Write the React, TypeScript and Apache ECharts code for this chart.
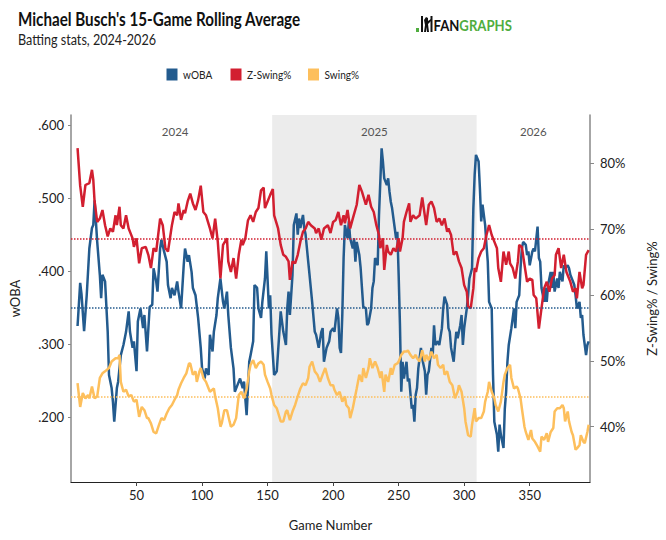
import React, { useEffect, useRef } from "react";
import * as echarts from "echarts";

const titleText = "Michael Busch's 15-Game Rolling Average";
const subtitleText = "Batting stats, 2024-2026";
const seriesNames = ["wOBA", "Z-Swing%", "Swing%"];
const seasonLabels = ["2024", "2025", "2026"];
const seasonBounds = [5.5, 153.5, 309.5, 396];
const xTicks = [50, 100, 150, 200, 250, 300, 350];
const wobaTicks = [0.2, 0.3, 0.4, 0.5, 0.6];
const pctTicks = [40, 50, 60, 70, 80];
const wobaAvg = 0.35;
const zSwingAvg = 68.6;
const swingAvg = 44.6;

const wobaPoints: [number, number][] = [
  [5, 0.325], [7, 0.384], [8, 0.369], [10, 0.318], [12, 0.367], [14, 0.431], [16, 0.459], [17, 0.463], [18, 0.497], [20, 0.44],
  [22, 0.395], [23, 0.363], [24, 0.395], [26, 0.386], [28, 0.317], [29, 0.258], [31, 0.24], [32, 0.221], [33, 0.194], [35, 0.24],
  [36, 0.249], [38, 0.285], [40, 0.299], [42, 0.317], [44, 0.345], [45, 0.317], [47, 0.295], [48, 0.304], [50, 0.263], [51, 0.331],
  [53, 0.349], [55, 0.322], [56, 0.34], [58, 0.29], [60, 0.351], [62, 0.354], [63, 0.404], [65, 0.386], [66, 0.372], [68, 0.431],
  [69, 0.443], [71, 0.427], [73, 0.413], [74, 0.381], [76, 0.363], [77, 0.377], [79, 0.367], [81, 0.386], [82, 0.372], [84, 0.349],
  [86, 0.408], [87, 0.431], [89, 0.413], [90, 0.422], [92, 0.399], [93, 0.377], [95, 0.367], [97, 0.336], [99, 0.295], [100, 0.267],
  [102, 0.253], [103, 0.267], [105, 0.258], [106, 0.313], [108, 0.29], [109, 0.317], [111, 0.34], [112, 0.363], [114, 0.39], [116, 0.358],
  [117, 0.349], [119, 0.372], [120, 0.34], [122, 0.295], [124, 0.267], [125, 0.235], [127, 0.244], [129, 0.253], [131, 0.24], [132, 0.249],
  [134, 0.203], [136, 0.276], [137, 0.285], [139, 0.304], [140, 0.381], [142, 0.377], [143, 0.349], [145, 0.336], [146, 0.358], [148, 0.39],
  [149, 0.427], [151, 0.349], [152, 0.367], [153, 0.313], [155, 0.258], [157, 0.263], [159, 0.317], [160, 0.345], [162, 0.317], [164, 0.299],
  [165, 0.349], [166, 0.372], [167, 0.34], [169, 0.395], [170, 0.463], [172, 0.479], [173, 0.45], [174, 0.472], [175, 0.459], [177, 0.477],
  [178, 0.459], [179, 0.45], [181, 0.413], [182, 0.395], [184, 0.358], [186, 0.317], [187, 0.313], [189, 0.295], [191, 0.317], [192, 0.322],
  [193, 0.276], [195, 0.295], [197, 0.304], [198, 0.317], [200, 0.322], [201, 0.317], [203, 0.349], [204, 0.336], [205, 0.295], [206, 0.288],
  [207, 0.34], [208, 0.418], [209, 0.463], [211, 0.445], [212, 0.468], [213, 0.445], [215, 0.431], [216, 0.445], [217, 0.413], [218, 0.44],
  [220, 0.422], [221, 0.404], [222, 0.377], [223, 0.351], [225, 0.349], [226, 0.326], [227, 0.329], [229, 0.349], [230, 0.377], [231, 0.386],
  [232, 0.418], [234, 0.408], [235, 0.477], [236, 0.522], [237, 0.568], [238, 0.55], [239, 0.527], [241, 0.518], [242, 0.527], [243, 0.509],
  [244, 0.495], [245, 0.486], [247, 0.459], [248, 0.445], [249, 0.454], [250, 0.395], [251, 0.326], [252, 0.235], [253, 0.276], [254, 0.253],
  [256, 0.276], [257, 0.249], [258, 0.253], [260, 0.212], [261, 0.217], [262, 0.194], [263, 0.231], [264, 0.24], [265, 0.267], [267, 0.295],
  [268, 0.28], [270, 0.263], [271, 0.231], [272, 0.258], [273, 0.263], [275, 0.295], [276, 0.285], [277, 0.326], [278, 0.299], [280, 0.304],
  [281, 0.299], [283, 0.322], [284, 0.349], [285, 0.365], [287, 0.354], [288, 0.322], [289, 0.317], [290, 0.295], [292, 0.276], [293, 0.299],
  [294, 0.317], [295, 0.308], [297, 0.326], [298, 0.34], [299, 0.299], [300, 0.322], [302, 0.349], [303, 0.367], [304, 0.39], [306, 0.404],
  [307, 0.486], [308, 0.532], [309, 0.559], [311, 0.55], [312, 0.513], [313, 0.468], [314, 0.491], [316, 0.463], [317, 0.436], [318, 0.413],
  [319, 0.358], [321, 0.349], [322, 0.258], [323, 0.194], [325, 0.176], [326, 0.153], [327, 0.19], [328, 0.176], [330, 0.158], [331, 0.212],
  [332, 0.235], [333, 0.276], [334, 0.299], [336, 0.322], [338, 0.349], [339, 0.322], [340, 0.358], [342, 0.367], [343, 0.404], [344, 0.431],
  [345, 0.44], [347, 0.436], [348, 0.422], [349, 0.427], [350, 0.408], [352, 0.427], [353, 0.431], [354, 0.427], [356, 0.461], [357, 0.418],
  [358, 0.413], [359, 0.377], [361, 0.358], [362, 0.377], [363, 0.358], [364, 0.381], [366, 0.399], [367, 0.377], [368, 0.399], [369, 0.372],
  [371, 0.39], [372, 0.377], [373, 0.399], [375, 0.386], [376, 0.408], [377, 0.404], [379, 0.408], [380, 0.404], [381, 0.395], [383, 0.386],
  [384, 0.381], [385, 0.367], [386, 0.349], [388, 0.358], [389, 0.336], [390, 0.34], [391, 0.313], [393, 0.285], [394, 0.299], [395, 0.304],
];

const zSwingPoints: [number, number][] = [
  [5, 82.3], [7, 76.6], [9, 73.4], [11, 76.7], [14, 77.0], [16, 79.0], [17, 77.5], [18, 74.2], [20, 71.1], [22, 71.6],
  [24, 72.9], [26, 70.6], [28, 68.9], [30, 70.1], [32, 69.6], [34, 72.1], [35, 70.6], [37, 73.4], [38, 70.6], [40, 70.1],
  [42, 72.1], [44, 70.1], [47, 68.6], [48, 67.3], [50, 68.6], [52, 64.8], [54, 67.1], [57, 67.3], [59, 66.1], [61, 64.1],
  [63, 67.1], [65, 66.6], [68, 71.6], [70, 70.6], [72, 67.1], [74, 66.6], [77, 70.6], [79, 72.6], [81, 72.1], [82, 73.9],
  [84, 71.4], [86, 72.9], [87, 72.4], [89, 74.2], [91, 75.4], [93, 73.9], [95, 72.9], [97, 74.4], [99, 76.6], [101, 72.6],
  [103, 72.1], [106, 70.1], [108, 68.6], [110, 71.6], [112, 68.1], [114, 62.5], [116, 67.6], [119, 68.6], [120, 65.1], [122, 63.5],
  [124, 65.6], [126, 62.5], [128, 66.1], [130, 68.4], [131, 67.6], [133, 68.6], [135, 71.3], [137, 72.1], [139, 71.1], [141, 72.6],
  [143, 73.2], [145, 75.9], [147, 76.3], [148, 73.2], [150, 74.2], [152, 75.2], [154, 76.1], [155, 72.1], [158, 70.1], [160, 67.6],
  [162, 66.1], [164, 65.8], [166, 65.1], [167, 62.3], [169, 65.1], [171, 64.8], [173, 66.1], [175, 68.1], [177, 69.6], [179, 70.1],
  [181, 71.1], [183, 70.6], [186, 70.1], [187, 69.4], [189, 70.1], [191, 68.4], [193, 70.1], [196, 70.6], [198, 69.4], [200, 71.1],
  [202, 71.4], [204, 72.6], [206, 70.6], [208, 72.1], [209, 70.9], [211, 72.9], [213, 70.1], [215, 71.6], [218, 73.7], [220, 76.7],
  [222, 75.7], [225, 73.7], [227, 75.2], [229, 73.4], [231, 72.6], [233, 70.6], [235, 69.1], [236, 67.1], [238, 68.6], [239, 63.8],
  [241, 67.6], [242, 66.6], [244, 66.1], [246, 67.1], [248, 66.6], [250, 68.6], [251, 66.6], [253, 68.6], [254, 71.1], [256, 72.6],
  [258, 73.9], [259, 71.1], [261, 72.1], [263, 71.6], [266, 72.1], [268, 74.8], [271, 70.6], [273, 73.7], [275, 74.2], [277, 73.2],
  [279, 71.1], [281, 71.6], [283, 70.6], [285, 71.6], [287, 69.6], [288, 70.1], [290, 69.1], [292, 66.1], [294, 66.6], [296, 65.1],
  [298, 64.1], [300, 61.5], [302, 60.5], [303, 58.2], [305, 58.0], [307, 61.0], [308, 64.1], [309, 63.5], [311, 65.6], [313, 66.6],
  [315, 67.1], [317, 69.1], [319, 70.6], [321, 69.1], [323, 68.1], [325, 67.1], [326, 64.1], [328, 62.0], [330, 66.6], [332, 64.6],
  [334, 66.6], [335, 64.8], [337, 64.1], [339, 62.5], [341, 65.1], [342, 67.6], [344, 67.3], [346, 64.6], [348, 62.0], [350, 62.5],
  [352, 62.3], [353, 60.0], [355, 59.5], [357, 54.9], [359, 58.0], [361, 61.0], [363, 62.0], [365, 60.5], [367, 62.5], [369, 63.0],
  [370, 66.1], [372, 67.1], [374, 64.1], [376, 66.1], [378, 63.5], [380, 62.5], [381, 62.0], [383, 60.5], [385, 61.0], [386, 59.5],
  [388, 63.5], [390, 61.0], [391, 61.5], [393, 66.1], [395, 66.8],
];

const swingPoints: [number, number][] = [
  [5, 46.6], [7, 43.0], [9, 45.1], [11, 44.3], [13, 44.8], [14, 44.3], [16, 46.1], [18, 44.3], [20, 44.6], [22, 47.4],
  [24, 48.1], [26, 48.4], [29, 48.9], [31, 49.9], [34, 50.4], [36, 50.4], [37, 50.9], [38, 46.8], [40, 45.3], [42, 45.6],
  [44, 44.6], [46, 44.8], [48, 43.8], [50, 44.1], [52, 41.5], [54, 43.0], [56, 42.5], [58, 41.3], [59, 41.3], [61, 40.5],
  [63, 39.2], [65, 39.0], [67, 40.2], [69, 41.3], [71, 41.0], [73, 42.0], [75, 42.8], [77, 43.3], [79, 44.1], [81, 44.8],
  [82, 45.6], [84, 46.6], [86, 47.4], [88, 48.1], [90, 49.6], [91, 49.6], [93, 47.9], [95, 48.4], [96, 46.8], [98, 48.4],
  [99, 48.9], [101, 47.4], [103, 46.8], [105, 45.8], [106, 45.3], [109, 45.8], [110, 44.6], [112, 42.8], [114, 40.0], [115, 40.5],
  [117, 42.5], [119, 42.5], [121, 40.8], [122, 40.0], [124, 40.3], [126, 41.3], [128, 44.8], [130, 45.3], [132, 44.3], [134, 45.7],
  [136, 48.4], [137, 49.4], [139, 50.1], [141, 48.9], [143, 49.6], [145, 49.9], [147, 49.4], [148, 47.9], [150, 46.8], [152, 45.8],
  [153, 44.8], [155, 43.3], [157, 42.8], [159, 41.5], [160, 40.8], [162, 40.8], [164, 42.3], [165, 42.5], [167, 41.0], [169, 42.3],
  [171, 43.3], [173, 44.6], [175, 45.8], [177, 46.6], [179, 46.3], [181, 47.4], [182, 49.1], [184, 49.9], [186, 48.4], [188, 47.9],
  [190, 46.8], [192, 47.9], [194, 48.9], [196, 47.4], [198, 46.3], [200, 46.3], [201, 45.6], [203, 44.8], [205, 45.3], [207, 43.8],
  [209, 44.6], [210, 43.3], [212, 42.8], [213, 41.3], [215, 42.8], [217, 44.8], [218, 45.8], [220, 47.9], [222, 46.8], [223, 48.9],
  [225, 47.4], [227, 48.9], [228, 50.4], [230, 48.9], [232, 49.9], [234, 48.9], [236, 47.4], [237, 48.4], [239, 45.3], [240, 47.9],
  [242, 46.8], [244, 48.9], [245, 47.9], [247, 49.4], [249, 49.6], [250, 49.9], [252, 50.9], [254, 51.4], [256, 51.4], [257, 51.6],
  [259, 50.9], [261, 50.4], [263, 50.9], [264, 50.4], [266, 49.9], [268, 51.6], [270, 49.9], [271, 50.9], [273, 50.1], [275, 51.4],
  [277, 50.4], [279, 50.9], [280, 49.4], [282, 48.9], [284, 49.4], [285, 47.9], [287, 48.4], [289, 46.8], [291, 46.3], [293, 44.3],
  [295, 45.3], [296, 46.3], [298, 45.3], [300, 42.8], [301, 40.8], [303, 38.7], [305, 38.5], [306, 40.3], [308, 42.8], [309, 40.8],
  [311, 41.3], [313, 41.3], [315, 42.3], [316, 43.8], [318, 45.3], [319, 46.8], [321, 45.3], [323, 44.3], [324, 43.3], [326, 42.3],
  [328, 43.8], [330, 46.8], [331, 47.9], [333, 48.9], [335, 49.4], [336, 47.4], [338, 45.8], [340, 46.1], [341, 45.8], [343, 44.3],
  [344, 42.8], [346, 40.0], [347, 39.2], [349, 38.0], [351, 39.5], [352, 38.2], [354, 37.7], [356, 37.0], [358, 36.2], [359, 38.5],
  [361, 38.0], [363, 39.0], [364, 37.7], [366, 39.2], [368, 39.8], [369, 42.3], [371, 42.8], [373, 42.8], [375, 43.3], [376, 42.8],
  [377, 40.8], [379, 42.3], [380, 40.8], [382, 39.2], [383, 38.7], [385, 36.5], [386, 36.7], [388, 37.2], [389, 38.7], [391, 37.7],
  [392, 37.5], [394, 39.2], [395, 40.3],
];

const BLUE = "#235b8e";
const RED = "#d21f30";
const YELLOW = "#fdbf5c";
const GREEN = "#50ad3f";
const FONT = "Lato, 'Noto Sans', sans-serif";
const seriesColors = [BLUE, RED, YELLOW];
const legendIconX = [166.5, 230.5, 308];

export default function App() {
  const ref = useRef<HTMLDivElement>(null);

  useEffect(() => {
    if (!ref.current) return;
    const chart = echarts.init(ref.current, undefined, { renderer: "svg" });

    const markLineFor = (value: number, color: string) => ({
      silent: true,
      symbol: "none",
      label: { show: false },
      lineStyle: { color, type: "dotted", width: 1.5 },
      data: [{ yAxis: value }],
    });

    const seasonAreas = seasonLabels.map((label, i) => [
      {
        name: label,
        xAxis: seasonBounds[i],
        itemStyle: { color: i === 1 ? "#ececec" : "rgba(0,0,0,0)" },
      },
      { xAxis: seasonBounds[i + 1] },
    ]);

    const legendGraphics: any[] = [];
    seriesNames.forEach((name, i) => {
      legendGraphics.push({
        type: "rect",
        shape: { x: legendIconX[i], y: 68.5, width: 11, height: 12 },
        style: { fill: seriesColors[i] },
      });
      legendGraphics.push({
        type: "text",
        x: legendIconX[i] + 16.5,
        y: 74.5,
        scaleX: 0.84,
        style: {
          text: name,
          font: `12px ${FONT}`,
          fill: "#222",
          textVerticalAlign: "middle",
        },
      });
    });

    chart.setOption({
      animation: false,
      backgroundColor: "#ffffff",
      textStyle: { fontFamily: FONT },
      grid: { left: 71, right: 75, top: 115, bottom: 58 },
      graphic: [
        {
          type: "text",
          x: 18,
          y: 9,
          scaleX: 0.8,
          style: {
            text: titleText,
            font: `bold 19px ${FONT}`,
            fill: "#111",
          },
        },
        {
          type: "text",
          x: 18,
          y: 31.5,
          scaleX: 0.84,
          style: {
            text: subtitleText,
            font: `15px ${FONT}`,
            fill: "#222",
          },
        },
        { type: "rect", shape: { x: 416, y: 28, width: 3, height: 4 }, style: { fill: GREEN } },
        { type: "rect", shape: { x: 421, y: 16, width: 2, height: 16 }, style: { fill: "#111" } },
        {
          type: "polygon",
          shape: {
            points: [[424, 32], [425, 25], [424, 20], [426, 17], [428, 18], [428, 21], [431, 19], [431, 21], [428, 24], [429, 32], [427, 32], [426.5, 27], [426, 32]],
          },
          style: { fill: "#111" },
        },
        { type: "rect", shape: { x: 430.5, y: 16, width: 2, height: 16 }, style: { fill: "#111" } },
        {
          type: "text",
          x: 433.5,
          y: 16.5,
          scaleX: 0.82,
          style: {
            text: "{a|FAN}{b|GRAPHS}",
            rich: {
              a: { font: `bold 16px ${FONT}`, fill: "#111", color: "#111" },
              b: { font: `bold 16px ${FONT}`, fill: GREEN, color: GREEN },
            },
          },
        },
        ...legendGraphics,
      ],
      xAxis: {
        type: "value",
        min: 0,
        max: 396,
        name: "Game Number",
        nameLocation: "middle",
        nameGap: 36,
        nameTextStyle: { fontFamily: FONT, fontSize: 13, color: "#222" },
        axisLine: { show: true, lineStyle: { color: "#222", width: 1 } },
        axisTick: { show: true, length: 4, customValues: xTicks, lineStyle: { color: "#444" } },
        axisLabel: { customValues: xTicks, fontFamily: FONT, fontSize: 13, color: "#222", margin: 6 },
        splitLine: { show: false },
      },
      yAxis: [
        {
          type: "value",
          min: 0.11146,
          max: 0.61368,
          position: "left",
          name: "wOBA",
          nameLocation: "middle",
          nameGap: 50,
          nameTextStyle: { fontFamily: FONT, fontSize: 13, color: "#222" },
          axisLine: { show: true, lineStyle: { color: "#888", width: 1.5 } },
          axisTick: { show: true, length: 3, customValues: wobaTicks, lineStyle: { color: "#888" } },
          axisLabel: {
            customValues: wobaTicks,
            fontFamily: FONT,
            fontSize: 13,
            color: "#222",
            margin: 7,
            formatter: (v: number) => v.toFixed(3).replace(/^0/, ""),
          },
          splitLine: { show: false },
        },
        {
          type: "value",
          min: 31.6,
          max: 87.33,
          position: "right",
          name: "Z-Swing% / Swing%",
          nameLocation: "middle",
          nameGap: 55,
          nameTextStyle: { fontFamily: FONT, fontSize: 13, color: "#222" },
          axisLine: { show: true, lineStyle: { color: "#888", width: 1.5 } },
          axisTick: { show: true, length: 4, customValues: pctTicks, lineStyle: { color: "#888" } },
          axisLabel: {
            customValues: pctTicks,
            fontFamily: FONT,
            fontSize: 13,
            color: "#222",
            margin: 10,
            formatter: (v: number) => `${v}%`,
          },
          splitLine: { show: false },
        },
      ],
      series: [
        {
          name: "seasons",
          type: "line",
          yAxisIndex: 0,
          data: [],
          silent: true,
          z: 1,
          markArea: {
            silent: true,
            label: {
              show: true,
              position: "insideTop",
              distance: 10,
              fontFamily: FONT,
              fontSize: 11.5,
              color: "#555",
            },
            data: seasonAreas,
          },
        },
        {
          name: seriesNames[0],
          type: "line",
          yAxisIndex: 0,
          data: wobaPoints,
          showSymbol: false,
          symbol: "none",
          z: 3,
          lineStyle: { color: BLUE, width: 2.5 },
          itemStyle: { color: BLUE },
          markLine: markLineFor(wobaAvg, BLUE),
        },
        {
          name: seriesNames[1],
          type: "line",
          yAxisIndex: 1,
          data: zSwingPoints,
          showSymbol: false,
          symbol: "none",
          z: 4,
          lineStyle: { color: RED, width: 2.5 },
          itemStyle: { color: RED },
          markLine: markLineFor(zSwingAvg, RED),
        },
        {
          name: seriesNames[2],
          type: "line",
          yAxisIndex: 1,
          data: swingPoints,
          showSymbol: false,
          symbol: "none",
          z: 5,
          lineStyle: { color: YELLOW, width: 2.5 },
          itemStyle: { color: YELLOW },
          markLine: markLineFor(swingAvg, YELLOW),
        },
      ],
    });

    return () => chart.dispose();
  }, []);

  return <div ref={ref} style={{ width: 666, height: 540, position: "absolute", left: 0, top: 0 }} />;
}
